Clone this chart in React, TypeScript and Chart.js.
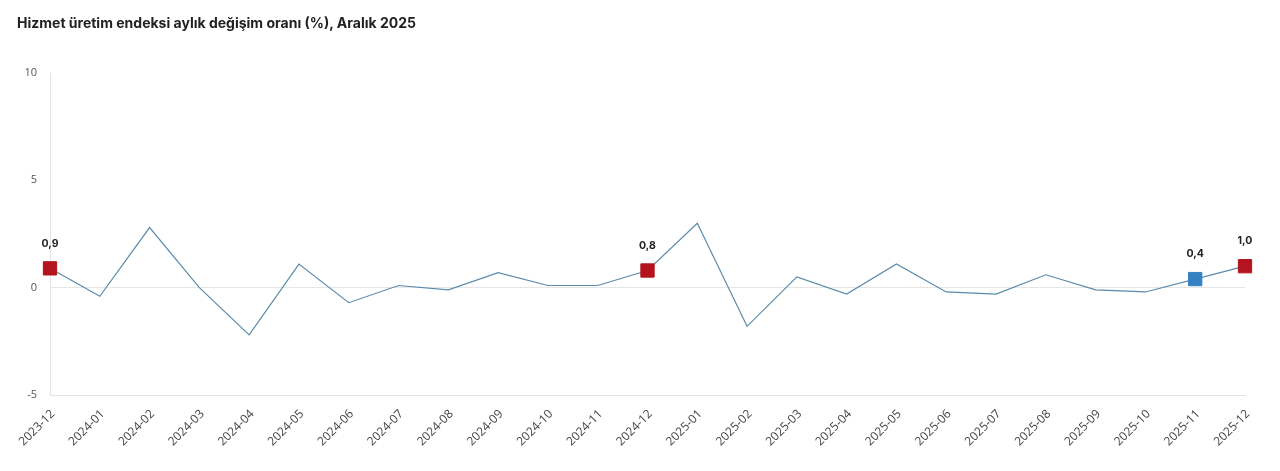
import React, { useEffect, useRef } from "react";
import { Chart, registerables } from "chart.js";

Chart.register(...registerables);

const TITLE = "Hizmet üretim endeksi aylık değişim oranı (%), Aralık 2025";

const categories = [
  "2023-12", "2024-01", "2024-02", "2024-03", "2024-04", "2024-05", "2024-06",
  "2024-07", "2024-08", "2024-09", "2024-10", "2024-11", "2024-12", "2025-01",
  "2025-02", "2025-03", "2025-04", "2025-05", "2025-06", "2025-07", "2025-08",
  "2025-09", "2025-10", "2025-11", "2025-12",
];

const values = [
  0.9, -0.4, 2.8, 0.0, -2.2, 1.1, -0.7, 0.1, -0.1, 0.7, 0.1, 0.1, 0.8, 3.0,
  -1.8, 0.5, -0.3, 1.1, -0.2, -0.3, 0.6, -0.1, -0.2, 0.4, 1.0,
];

// highlighted points: "red" = December, "blue" = previous month
const highlightRed = ["2023-12", "2024-12", "2025-12"];
const highlightBlue = ["2025-11"];

const yTicks = [-5, 0, 5, 10];

const RED = "#b3141d";
const BLUE = "#3380c2";
const LINE = "#5a8bab";

const labelPlugin = {
  id: "pointLabels",
  afterDatasetsDraw(chart: any) {
    const meta = chart.getDatasetMeta(0);
    const ctx = chart.ctx;
    ctx.save();
    ctx.font = "bold 10.5px Inter, 'Noto Sans', sans-serif";
    ctx.fillStyle = "#222";
    ctx.textAlign = "center";
    ctx.textBaseline = "middle";
    meta.data.forEach((pt: any, i: number) => {
      const cat = categories[i];
      if (highlightRed.includes(cat) || highlightBlue.includes(cat)) {
        const txt = values[i].toFixed(1).replace(".", ",");
        ctx.fillText(txt, pt.x, pt.y - 25);
      }
    });
    ctx.restore();
  },
};

export default function App() {
  const ref = useRef<HTMLCanvasElement | null>(null);

  useEffect(() => {
    document.body.style.margin = "0";
    const canvas = ref.current;
    if (!canvas) return;
    const pointColors = categories.map((c) =>
      highlightRed.includes(c) ? RED : highlightBlue.includes(c) ? BLUE : LINE
    );
    const pointRadii = categories.map((c) =>
      highlightRed.includes(c) || highlightBlue.includes(c) ? 9.4 : 0
    );
    const chart = new Chart(canvas, {
      type: "line",
      data: {
        labels: categories,
        datasets: [
          {
            data: values,
            borderColor: LINE,
            borderWidth: 1.2,
            tension: 0,
            pointStyle: "rect",
            pointRadius: pointRadii,
            pointHoverRadius: pointRadii,
            pointBackgroundColor: pointColors,
            pointBorderColor: pointColors,
            pointBorderWidth: 1,
          },
        ],
      },
      options: {
        animation: false,
        responsive: false,
        maintainAspectRatio: false,
        layout: { padding: { top: 73, right: 35, bottom: 0, left: 0 } },
        plugins: {
          legend: { display: false },
          tooltip: { enabled: false },
          title: { display: false },
        },
        scales: {
          x: {
            offset: false,
            grid: { display: false, drawTicks: false },
            border: { display: true, color: "#e3e3e3" },
            ticks: {
              autoSkip: false,
              minRotation: 45,
              maxRotation: 45,
              padding: 12,
              labelOffset: 3,
              color: "#444",
              font: { family: "'Open Sans', sans-serif", size: 12 },
            },
            afterFit(scale: any) {
              scale.height = 76;
            },
          },
          y: {
            min: -5,
            max: 10,
            afterBuildTicks(scale: any) {
              scale.ticks = yTicks.map((v) => ({ value: v }));
            },
            grid: {
              drawTicks: false,
              color: (ctx: any) =>
                ctx.tick && ctx.tick.value === 0 ? "#e6e6e6" : "rgba(0,0,0,0)",
            },
            border: { display: true, color: "#e3e3e3" },
            ticks: {
              padding: 13,
              color: "#555",
              font: { family: "'Open Sans', sans-serif", size: 11 },
              callback: (v: any) => String(v),
            },
            afterFit(scale: any) {
              scale.width = 50;
            },
          },
        },
      },
      plugins: [labelPlugin],
    });
    return () => chart.destroy();
  }, []);

  return (
    <div style={{ position: "relative", width: 1280, height: 471, background: "#fff" }}>
      <div
        style={{
          position: "absolute",
          left: 17,
          top: 14,
          fontFamily: "Inter, 'Noto Sans', sans-serif",
          fontWeight: 700,
          fontSize: 14,
          color: "#222",
          whiteSpace: "nowrap",
        }}
      >
        {TITLE}
      </div>
      <canvas ref={ref} width={1280} height={471} style={{ display: "block" }} />
    </div>
  );
}
